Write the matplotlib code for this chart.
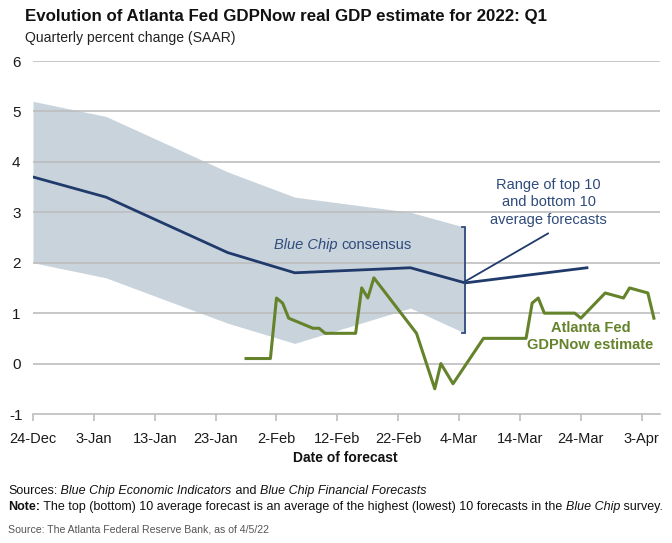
import matplotlib
matplotlib.use("Agg")
import matplotlib.pyplot as plt
import matplotlib.dates as mdates
import numpy as np
import datetime as dt
from matplotlib import font_manager as fm

# ---------------- data ----------------
consensus_dates = ["2021-12-24", "2022-01-05", "2022-01-25", "2022-02-05",
                   "2022-02-24", "2022-03-05", "2022-03-25"]
consensus_vals = [3.7, 3.3, 2.2, 1.8, 1.9, 1.6, 1.9]

band_dates = ["2021-12-24", "2022-01-05", "2022-01-25", "2022-02-05",
              "2022-02-24", "2022-03-05"]
band_top = [5.2, 4.9, 3.8, 3.3, 3.0, 2.7]
band_bottom = [2.0, 1.7, 0.8, 0.4, 1.1, 0.6]

gdpnow_dates = ["2022-01-28", "2022-02-01", "2022-02-02", "2022-02-03", "2022-02-04",
                "2022-02-08", "2022-02-09", "2022-02-10", "2022-02-15", "2022-02-16",
                "2022-02-17", "2022-02-18", "2022-02-25", "2022-02-28", "2022-03-01",
                "2022-03-03", "2022-03-08", "2022-03-15", "2022-03-16", "2022-03-17",
                "2022-03-18", "2022-03-23", "2022-03-24", "2022-03-28", "2022-03-31",
                "2022-04-01", "2022-04-04", "2022-04-05"]
gdpnow_vals = [0.1, 0.1, 1.3, 1.2, 0.9,
               0.7, 0.7, 0.6, 0.6, 1.5,
               1.3, 1.7, 0.6, -0.5, 0.0,
               -0.4, 0.5, 0.5, 1.2, 1.3,
               1.0, 1.0, 0.9, 1.4, 1.3,
               1.5, 1.4, 0.9]

y_ticks = [-1, 0, 1, 2, 3, 4, 5, 6]

# ---------------- fonts ----------------
names = {f.name for f in fm.fontManager.ttflist}
base = "Liberation Sans Narrow" if "Liberation Sans Narrow" in names else "Liberation Sans"
plt.rcParams["font.family"] = [base, "DejaVu Sans"]

def d(s):
    return dt.datetime.strptime(s, "%Y-%m-%d")

cd = [d(s) for s in consensus_dates]
bd = [d(s) for s in band_dates]
gd = [d(s) for s in gdpnow_dates]

NAVY = "#1f3a6b"
LABEL_NAVY = "#2f4b7c"
GREEN = "#64832b"
BAND = "#c9d3dc"
GRID = "#bdbdbd"

fig = plt.figure(figsize=(6.72, 5.43), dpi=100)
ax = fig.add_axes([33 / 672, 1 - 414 / 543, (660 - 33) / 672, (414 - 61) / 543])

ax.fill_between(bd, band_bottom, band_top, color=BAND, lw=0, zorder=1)
for yv in y_ticks[1:]:
    ax.axhline(yv, color=GRID, lw=1.2, zorder=2)
ax.plot(cd, consensus_vals, color=NAVY, lw=2.0, zorder=3)
ax.plot(gd, gdpnow_vals, color=GREEN, lw=2.2, zorder=4)

ax.set_xlim(d("2021-12-24"), d("2022-04-06"))
ax.set_ylim(-1, 6)

ticks = [d("2021-12-24") + dt.timedelta(days=10 * i) for i in range(11)]
ax.set_xticks(ticks)
ax.xaxis.set_major_formatter(mdates.DateFormatter("%-d-%b"))
ax.set_yticks(y_ticks)
ax.set_yticklabels([str(v) for v in y_ticks])

for s in ["top", "right", "left"]:
    ax.spines[s].set_visible(False)
ax.spines["bottom"].set_color(GRID)
ax.spines["bottom"].set_linewidth(1.2)
ax.tick_params(axis="x", colors=GRID, length=5, width=1.2, labelcolor="#1a1a1a",
               labelsize=10.5, pad=8)
ax.tick_params(axis="y", length=0, labelsize=11, labelcolor="#1a1a1a", pad=12)
for lab in ax.get_yticklabels():
    lab.set_horizontalalignment("center")

# bracket at end of range
bx = d("2022-03-05")
tick_len = dt.timedelta(days=0.6)
ax.plot([bx - tick_len, bx, bx, bx - tick_len], [2.7, 2.7, 0.6, 0.6],
        color=LABEL_NAVY, lw=1.3, zorder=5, solid_joinstyle="miter")
ax.plot([bx, d("2022-03-18") + dt.timedelta(days=0.6)], [1.63, 2.58],
        color=NAVY, lw=1.3, zorder=5)

fig.canvas.draw()
r = fig.canvas.get_renderer()

# annotations
ax.text(d("2022-03-18") + dt.timedelta(days=0.7), 3.2,
        "Range of top 10\nand bottom 10\naverage forecasts",
        ha="center", va="center", color=LABEL_NAVY, fontsize=10.5, linespacing=1.3)
bc = ax.text(d("2022-02-05") - dt.timedelta(days=3.4), 2.35, "Blue Chip", style="italic",
             ha="left", va="center", color=LABEL_NAVY, fontsize=10.5)
bb = bc.get_window_extent(r)
fig.text(bb.x1 / fig.bbox.width + 4 / 672, ax.transData.transform((0, 2.35))[1] / fig.bbox.height,
         "consensus", ha="left", va="center", color=LABEL_NAVY, fontsize=10.5)
ax.text(d("2022-03-25") + dt.timedelta(days=0.6), 0.53, "Atlanta Fed\nGDPNow estimate",
        ha="center", va="center", color=GREEN, fontsize=10.5, fontweight="bold",
        linespacing=1.25)

# titles
fig.text(25 / 672, 1 - 17 / 543, "Evolution of Atlanta Fed GDPNow real GDP estimate for 2022: Q1",
         ha="left", va="center", fontsize=12.2, fontweight="bold", color="#111111")
fig.text(25 / 672, 1 - 38 / 543, "Quarterly percent change (SAAR)",
         ha="left", va="center", fontsize=10.1, color="#222222")
fig.text(345 / 672, 1 - 458 / 543, "Date of forecast", ha="center", va="center",
         fontsize=10, fontweight="bold", color="#111111")

# footnotes
FS = 9
y1 = 1 - 491 / 543
t = fig.text(8 / 672, y1, "Sources:", ha="left", va="center", fontsize=FS, color="#111111")
def after(txt, s, **kw):
    bb = txt.get_window_extent(r)
    x = bb.x1 / fig.bbox.width
    nt = fig.text(x, txt.get_position()[1], s, ha="left", va="center", fontsize=FS,
                  color="#111111", **kw)
    return nt
a = after(t, " Blue Chip Economic Indicators", style="italic")
a = after(a, " and ")
a = after(a, "Blue Chip Financial Forecasts", style="italic")

y2 = 1 - 507 / 543
t2 = fig.text(8 / 672, y2, "Note:", ha="left", va="center", fontsize=FS, fontweight="bold",
              color="#111111")
b = after(t2, " The top (bottom) 10 average forecast is an average of the highest (lowest) 10 forecasts in the ")
b = after(b, "Blue Chip", style="italic")
b = after(b, " survey.")

fig.text(8 / 672, 1 - 530 / 543, "Source: The Atlanta Federal Reserve Bank, as of 4/5/22",
         ha="left", va="center", fontsize=7.6, color="#555555")

fig.savefig("out.png", dpi=100)
